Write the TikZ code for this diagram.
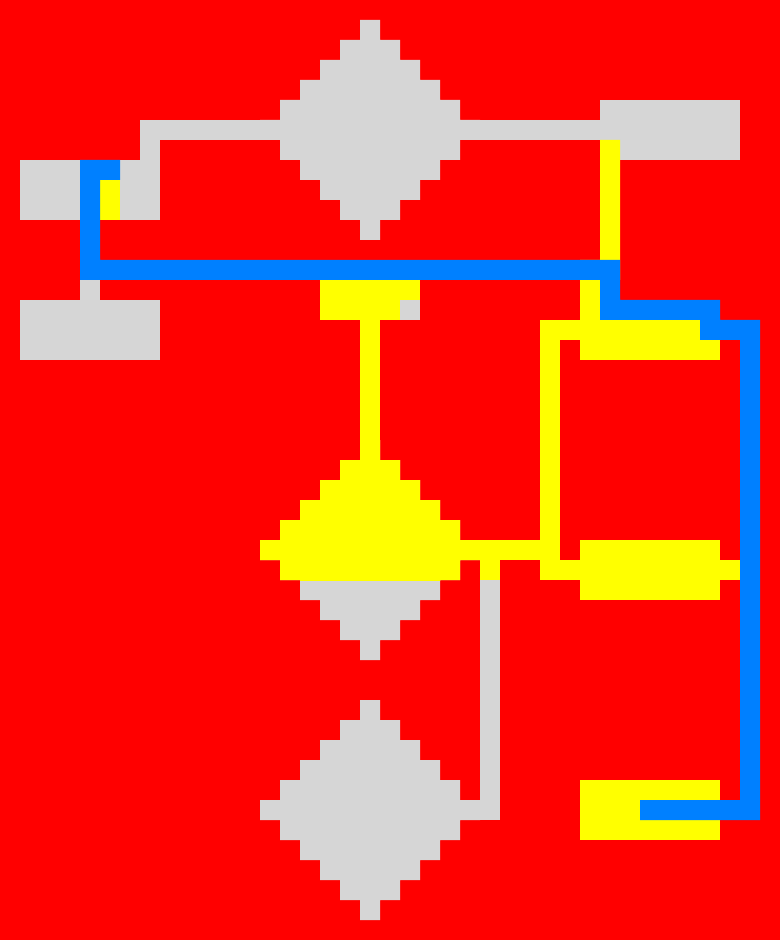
\documentclass[tikz,border=0pt]{standalone}
\definecolor{bgred}{HTML}{FF0000}
\definecolor{lgray}{HTML}{D6D6D6}
\definecolor{ylw}{HTML}{FFFF00}
\definecolor{blu}{HTML}{0080FF}
\tikzset{
  boxbase/.style={rectangle, draw=none, inner sep=0pt, outer sep=0pt, minimum width=2.8cm},
  gbox/.style={boxbase, fill=lgray, minimum height=1.2cm},
  ybox/.style={boxbase, fill=ylw},
  con/.style={line width=0.4cm, line cap=butt, line join=miter},
  gcon/.style={con, draw=lgray},
  ycon/.style={con, draw=ylw},
  bcon/.style={con, draw=blu},
  pics/pixdia/.style={code={
    \fill[#1] (-0.5,-5.5) -- (0.5,-5.5) -- (0.5,-4.5) -- (1.5,-4.5) -- (1.5,-3.5) -- (2.5,-3.5)
      -- (2.5,-2.5) -- (3.5,-2.5) -- (3.5,-1.5) -- (4.5,-1.5) -- (4.5,-0.5) -- (5.5,-0.5)
      -- (5.5,0.5) -- (4.5,0.5) -- (4.5,1.5) -- (3.5,1.5) -- (3.5,2.5) -- (2.5,2.5)
      -- (2.5,3.5) -- (1.5,3.5) -- (1.5,4.5) -- (0.5,4.5) -- (0.5,5.5) -- (-0.5,5.5)
      -- (-0.5,4.5) -- (-1.5,4.5) -- (-1.5,3.5) -- (-2.5,3.5) -- (-2.5,2.5) -- (-3.5,2.5)
      -- (-3.5,1.5) -- (-4.5,1.5) -- (-4.5,0.5) -- (-5.5,0.5) -- (-5.5,-0.5) -- (-4.5,-0.5)
      -- (-4.5,-1.5) -- (-3.5,-1.5) -- (-3.5,-2.5) -- (-2.5,-2.5) -- (-2.5,-3.5) -- (-1.5,-3.5)
      -- (-1.5,-4.5) -- (-0.5,-4.5) -- cycle;
    \coordinate (-c) at (0,0);
    \coordinate (-n) at (0,-5.5);
    \coordinate (-s) at (0,5.5);
    \coordinate (-e) at (5.5,0);
    \coordinate (-w) at (-5.5,0);
  }}
}
\begin{document}
\begin{tikzpicture}[x=0.4cm, y=-0.4cm]
  % background / frame
  \fill[bgred] (0,0) rectangle (39,47);
  \useasboundingbox (0,0) rectangle (39,47);

  % gray diamonds
  \pic (D1) at (18.5,6.5) {pixdia=lgray};
  \pic (D2) at (18.5,27.5) {pixdia=lgray};
  \pic (D3) at (18.5,40.5) {pixdia=lgray};

  % gray boxes
  \node[gbox] (tl) at (4.5,9.5) {};
  \node[gbox] (bl) at (4.5,16.5) {};
  \node[gbox] (tr) at (33.5,6.5) {};

  % gray connectors
  \draw[gcon] (tl.north east) ++(-0.5,0) |- (tr.west);
  \draw[gcon] (tl.south) -- (bl.north);
  \draw[gcon] (D3-e) -| (24.5,29);

  % yellow boxes
  \node[ybox, minimum width=2cm, minimum height=0.8cm] (ym) at (18.5,15) {};
  \node[ybox, minimum height=0.8cm] (r1) at (32.5,17) {};
  \node[ybox, minimum height=1.2cm] (r2) at (32.5,28.5) {};
  \node[ybox, minimum height=1.2cm] (r3) at (32.5,40.5) {};

  % yellow upper half of middle diamond
  \begin{scope}
    \clip (0,22) rectangle (39,29);
    \pic (D2y) at (18.5,27.5) {pixdia=ylw};
  \end{scope}

  % yellow connectors
  \draw[ycon] (tr.south west) ++(0.5,-1) |- (29.5,13.5) -- ([xshift=0.2cm]r1.north west);
  \draw[ycon] (ym.south) -- (D2-n);
  \coordinate (yend) at (37,28.5);
  \draw[ycon] ([yshift=0.2cm]r1.west) -| (27.5,28.5) -- (yend);
  \draw[ycon] (D2-e) -- (27.5,27.5);
  \fill[ylw] (24,28) rectangle (25,29);
  \fill[ylw] (5,9) rectangle (6,11);

  % gray pixel on yellow box
  \fill[lgray] (20,15) rectangle (21,16);

  % blue connector
  \draw[bcon] (tl.north) ++(1.5,0.5) -- (4.5,8.5) -- (4.5,13.5) -- (30.5,13.5) -- (30.5,15.5)
    -- (35.5,15.5) -- (35.5,16.5) -- (37.5,16.5) -- (37.5,40.5) -- ([xshift=-0.2cm]r3.center);
\end{tikzpicture}
\end{document}
